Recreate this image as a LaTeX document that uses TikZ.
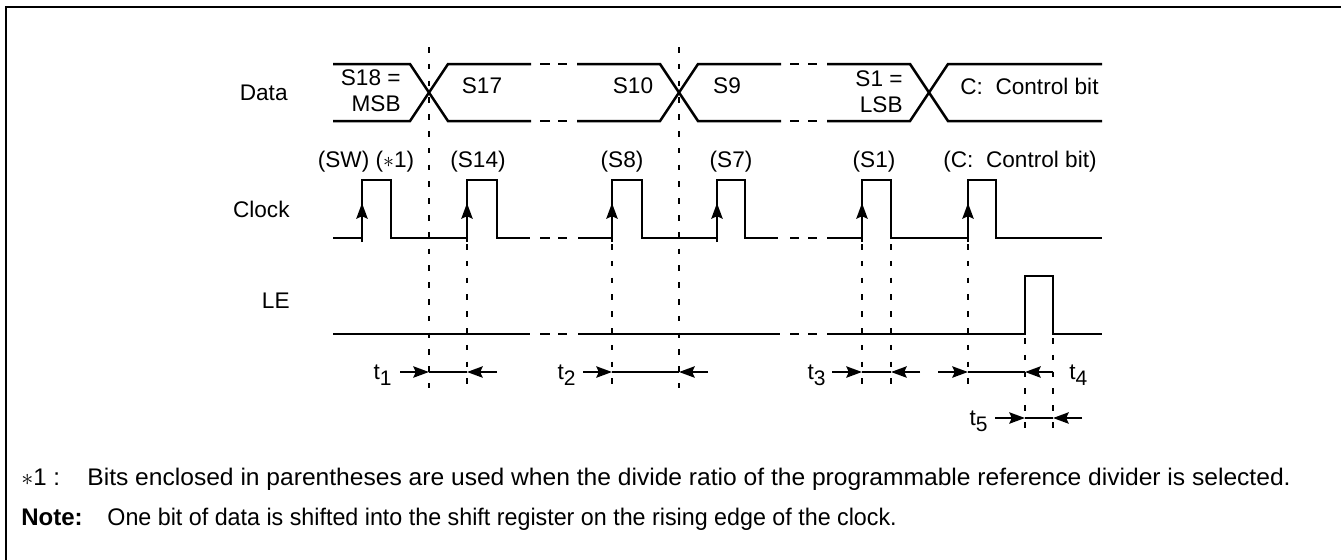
\documentclass[tikz,border=0pt]{standalone}
\usepackage{fontspec}
\setmainfont{Liberation Sans}
\usetikzlibrary{arrows.meta}

\begin{document}
% short dashes bridging the omitted bits of a waveform
\newcommand\gapdash[1]{%
  \draw[sig] (540,#1)--(550,#1) (558,#1)--(567,#1) (790,#1)--(799,#1) (808,#1)--(817,#1);}
% time label with subscript
\newcommand\tlab[1]{t\raisebox{-0.5ex}{\fontsize{10.5}{11}\selectfont #1}}

\tikzset{
  sig/.style={line width=1.25pt, line join=miter, line cap=butt},
  guide/.style={line width=1.4pt, dash pattern=on 2.8pt off 5.6pt},
  tip/.style={-{Stealth[length=7.8pt,width=5.6pt,inset=1.2pt]}},
  lbl/.style={inner sep=0pt, font=\fontsize{11.3}{12.8}\selectfont},
  note/.style={inner sep=0pt, anchor=base west, font=\fontsize{12}{13}\selectfont},
}

\begin{tikzpicture}[x=0.5pt, y=-0.5pt]
\useasboundingbox (0,0) rectangle (1341,559);
\clip (0,0) rectangle (1341,559);

% outer frame
\draw[line width=1.4pt] (6,7) rectangle (1400,620);

% ---- Data ----
\node[lbl, anchor=east] (ldata) at (288,93) {Data};
\draw[sig] (333,64)--(410,64)--(448,121)--(531,121);
\draw[sig] (333,121)--(410,121)--(448,64)--(531,64);
\draw[sig] (577,64)--(660,64)--(698,121)--(781,121);
\draw[sig] (577,121)--(660,121)--(698,64)--(781,64);
\draw[sig] (827,64)--(910,64)--(948,121)--(1102,121);
\draw[sig] (827,121)--(910,121)--(948,64)--(1102,64);
\gapdash{64}
\gapdash{121}
\node[lbl, anchor=east, align=right] (d18) at (401,91) {S18 =\\MSB};
\node[lbl] (d17) at (482,86) {S17};
\node[lbl] (d10) at (633,86) {S10};
\node[lbl] (d9) at (727,86) {S9};
\node[lbl, anchor=east, align=right] (d1) at (903,92) {S1 =\\LSB};
\node[lbl, anchor=west] (dc) at (960,86) {C:\ \ Control bit};

% ---- Clock ----
\node[lbl, anchor=east] (lclk) at (290,209) {Clock};
\draw[sig] (333,238)--(362,238)--(362,180)--(391,180)--(391,238)--(467,238)--(467,180)
  --(497,180)--(497,238)--(530,238);
\draw[sig] (578,238)--(612,238)--(612,180)--(642,180)--(642,238)--(717,238)--(717,180)
  --(745,180)--(745,238)--(778,238);
\draw[sig] (827,238)--(862,238)--(862,180)--(891,180)--(891,238)--(968,238)--(968,180)
  --(996,180)--(996,238)--(1102,238);
\gapdash{238}
\foreach \e in {362,467,612,717,862,968}
  \draw[sig, tip] (\e,242)--(\e,203);
\node[lbl] (csw) at (366,162) {(SW) ($\ast$1)};
\node[lbl] (c14) at (478,162) {(S14)};
\node[lbl] (c8) at (622,162) {(S8)};
\node[lbl] (c7) at (731,162) {(S7)};
\node[lbl] (c1) at (874,162) {(S1)};
\node[lbl] (cc) at (1020,162) {(C:\ \ Control bit)};

% ---- LE ----
\node[lbl, anchor=east] (lle) at (290,301) {LE};
\draw[sig] (333,334)--(530,334);
\draw[sig] (578,334)--(780,334);
\draw[sig] (827,334)--(1025,334)--(1025,276)--(1053,276)--(1053,334)--(1102,334);
\gapdash{334}

% ---- guide lines ----
\draw[guide] (429,47)--(429,388);
\draw[guide] (679,47)--(679,388);
\foreach \g in {467,612,862,891,968}
  \draw[guide] (\g,244)--(\g,390);
\foreach \g in {1025,1053}
  \draw[guide] (\g,338)--(\g,432);

% ---- timing marks ----
\node[lbl, anchor=east] (t1) at (392,375) {\tlab{1}};
\draw[sig, tip] (400,372)--(429,372);
\draw[sig] (429,372)--(467,372);
\draw[sig, tip] (497,372)--(467,372);

\node[lbl, anchor=east] (t2) at (576,375) {\tlab{2}};
\draw[sig, tip] (583,372)--(612,372);
\draw[sig] (612,372)--(679,372);
\draw[sig, tip] (708,372)--(679,372);

\node[lbl, anchor=east] (t3) at (826,375) {\tlab{3}};
\draw[sig, tip] (832,372)--(862,372);
\draw[sig] (862,372)--(891,372);
\draw[sig, tip] (920,372)--(891,372);

\draw[sig, tip] (938,372)--(968,372);
\draw[sig] (968,372)--(1025,372);
\draw[sig, tip] (1053,372)--(1025,372);
\node[lbl, anchor=west] (t4) at (1069,375) {\tlab{4}};

\node[lbl, anchor=east] (t5) at (988,421) {\tlab{5}};
\draw[sig, tip] (995,418)--(1025,418);
\draw[sig] (1025,418)--(1053,418);
\draw[sig, tip] (1082,418)--(1053,418);

% ---- notes ----
\node[note] (n1a) at (21,485) {$\ast$1 :};
\node[note] (n1b) at (87,485) {\scalebox{1.025}[1]{Bits enclosed in parentheses are used when the divide ratio of the programmable reference divider is selected.}};
\node[note] (n2a) at (21,525) {\bfseries Note:};
\node[note] (n2b) at (107,525) {\scalebox{0.97}[1]{One bit of data is shifted into the shift register on the rising edge of the clock.}};
\end{tikzpicture}
\end{document}
